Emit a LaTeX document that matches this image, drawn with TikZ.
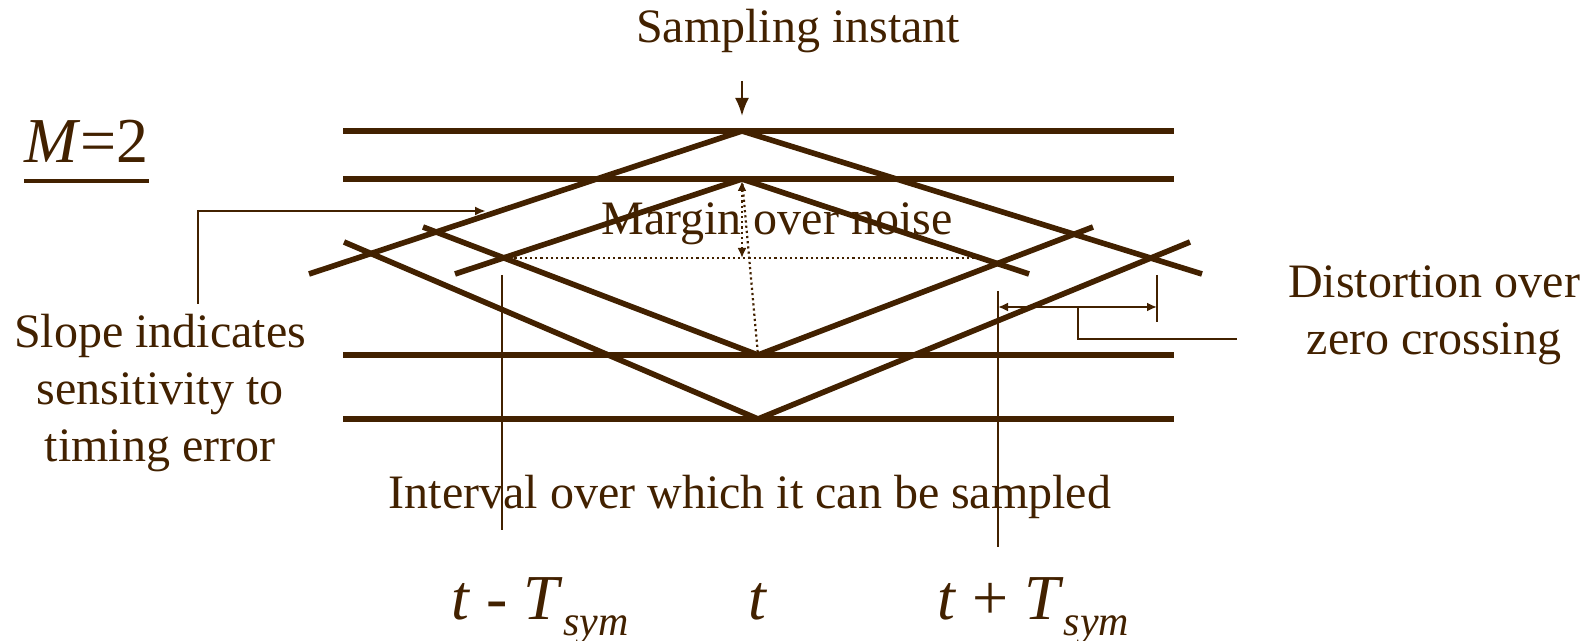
\documentclass[tikz,border=0pt]{standalone}
\usepackage{fontspec}
\setmainfont{Liberation Serif}
\usetikzlibrary{arrows.meta}
\definecolor{eyebrown}{RGB}{66,33,0}
\newcommand\symsub{\raisebox{-8pt}{\fontsize{21}{21}\selectfont\itshape sym}}
\begin{document}
\begin{tikzpicture}[x=0.5pt,y=-0.5pt,
  trace/.style={draw=eyebrown,line width=2.8pt},
  leader/.style={draw=eyebrown,line width=1.2pt},
  dotline/.style={draw=eyebrown,line width=1.1pt,dash pattern=on 1.1pt off 1.5pt},
  lbl/.style={text=eyebrown,font=\fontsize{24}{28.5}\selectfont,inner sep=0pt},
  biglbl/.style={text=eyebrown,font=\fontsize{32}{36}\selectfont,inner sep=0pt,anchor=base west},
  bigtip/.style={-{Latex[length=9pt,width=7pt]}},
  medtip/.style={-{Latex[length=5.5pt,width=4.5pt]}},
  smalltips/.style={{Latex[length=5pt,width=4.5pt]}-{Latex[length=5pt,width=4.5pt]}},
]
\useasboundingbox (0,0) rectangle (1591,641);
% horizontal levels
\foreach \n/\y in {1/131,2/179,3/355,4/419}{
  \coordinate (hl\n) at (343,\y);
  \coordinate (hr\n) at (1174,\y);
  \draw[trace] (hl\n) -- (hr\n);
}
% vertices and ends of transitions
\coordinate (A) at (742,131);
\coordinate (B) at (742,179);
\coordinate (C) at (758,355);
\coordinate (D) at (758,419);
\coordinate (a1) at (309,274); \coordinate (a2) at (1202,274);
\coordinate (b1) at (455,274); \coordinate (b2) at (1029,274);
\coordinate (c1) at (423,227); \coordinate (c2) at (1093,227);
\coordinate (d1) at (344,242); \coordinate (d2) at (1190,242);
\draw[trace] (A) -- (a1);
\draw[trace] (A) -- (a2);
\draw[trace] (B) -- (b1);
\draw[trace] (B) -- (b2);
\draw[trace] (C) -- (c1);
\draw[trace] (C) -- (c2);
\draw[trace] (D) -- (d1);
\draw[trace] (D) -- (d2);
% dotted eye opening
\coordinate (P) at (504,258); \coordinate (Q) at (975,258);
\draw[dotline] (P) -- (Q);
\draw[dotline] (B) -- (C);
\coordinate (m1) at (742,181); \coordinate (m2) at (742,258);
\draw[dotline,smalltips] (m1) -- (m2);
% sampling interval verticals
\coordinate (v1t) at (502,275); \coordinate (v1b) at (502,530);
\coordinate (v2t) at (998,291); \coordinate (v2b) at (998,547);
\draw[leader] (v1t) -- (v1b);
\draw[leader] (v2t) -- (v2b);
% distortion bracket
\coordinate (k1) at (998,307); \coordinate (k2) at (1157,307);
\coordinate (kt) at (1157,275); \coordinate (kb) at (1157,322);
\draw[leader,smalltips] (k1) -- (k2);
\draw[leader] (kt) -- (kb);
\coordinate (k3) at (1078,307); \coordinate (k4) at (1078,339); \coordinate (k5) at (1237,339);
\draw[leader] (k3) -- (k4) -- (k5);
% slope connector
\coordinate (s1) at (198,304); \coordinate (s2) at (198,211); \coordinate (s3) at (486,211);
\draw[leader,medtip] (s1) -- (s2) -- (s3);
% sampling instant arrow
\coordinate (sa1) at (742,81); \coordinate (sa2) at (742,116);
\draw[leader,bigtip] (sa1) -- (sa2);
% texts
\node[lbl,anchor=base] (samp) at (798,43) {Sampling instant};
\node[lbl,anchor=base] (margin) at (777,235) {Margin over noise};
\node[lbl,anchor=base] (interval) at (750,509) {Interval over which it can be sampled};
\node[lbl,anchor=north,align=center] (slope) at (160,314) {Slope indicates\\sensitivity to\\timing error};
\node[lbl,anchor=north,align=center] (dist) at (1434,265) {Distortion over\\zero crossing};
\node[biglbl] (tminus) at (451,619) {\textit{t} - \textit{T}\symsub};
\node[biglbl,anchor=base] (tmid) at (758,619) {\textit{t}};
\node[biglbl] (tplus) at (937,619) {\textit{t} + \textit{T}\symsub};
\node[text=eyebrown,font=\fontsize{32}{32}\selectfont,inner sep=0pt,anchor=base west] (mtwo) at (24,163) {\textit{M}=2};
\draw[eyebrown,line width=1.8pt] ([yshift=-9pt]mtwo.base west) -- ([yshift=-9pt]mtwo.base east);
\end{tikzpicture}
\end{document}
